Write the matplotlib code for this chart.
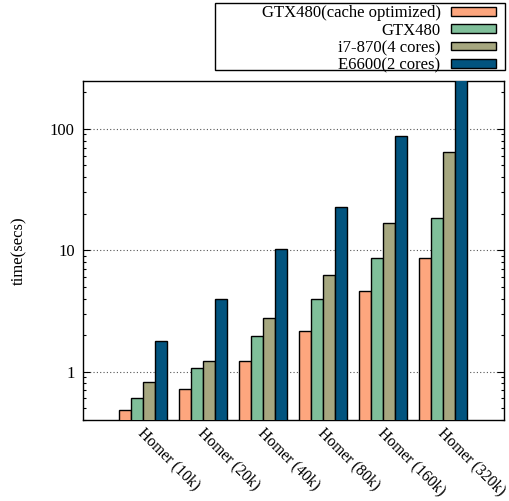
#!/usr/bin/env python3
"""Runtime comparison of GPU vs CPU implementations across Homer mesh sizes."""

import matplotlib
matplotlib.use("Agg")
import matplotlib.pyplot as plt
import matplotlib.transforms as mtransforms
import numpy as np
from matplotlib.patches import Rectangle
from matplotlib.ticker import FixedLocator, FixedFormatter, LogLocator, NullFormatter

plt.rcParams["font.family"] = ["Liberation Serif", "DejaVu Serif"]
plt.rcParams["font.size"] = 12

DATASETS = ["Homer (10k)", "Homer (20k)", "Homer (40k)", "Homer (80k)", "Homer (160k)", "Homer (320k)"]
SERIES = ["GTX480(cache optimized)", "GTX480", "i7-870(4 cores)", "E6600(2 cores)"]
GTX480_CACHE = [0.484, 0.725, 1.23, 2.18, 4.64, 8.67]
GTX480 = [0.60, 1.06, 1.98, 3.97, 8.67, 18.4]
I7_870 = [0.82, 1.23, 2.76, 6.28, 16.9, 64.3]
E6600 = [1.80, 3.93, 10.3, 22.7, 87.5, 280.0]

COLORS = ["#fda67e", "#80bf9a", "#a6a780", "#02547f"]


def main() -> None:
    fig = plt.figure(figsize=(5.10, 5.01), dpi=100)
    ax = fig.add_axes([0.163, 0.162, 0.826, 0.677])

    x = np.arange(len(DATASETS))
    width = 0.2
    all_series = [GTX480_CACHE, GTX480, I7_870, E6600]
    for i, (label, values, color) in enumerate(zip(SERIES, all_series, COLORS)):
        offset = (i - 1.5) * width
        ax.bar(x + offset, values, width, color=color, edgecolor="black",
               linewidth=1.0, label=label, zorder=3)

    ax.set_yscale("log")
    ax.set_ylim(0.4, 250)
    ax.set_xlim(-1.0, 6.02)

    ax.yaxis.set_major_locator(FixedLocator([1, 10, 100]))
    ax.yaxis.set_major_formatter(FixedFormatter(["1", "10", "100"]))
    ax.yaxis.set_minor_locator(LogLocator(base=10, subs=np.arange(2, 10)))
    ax.yaxis.set_minor_formatter(NullFormatter())
    ax.tick_params(axis="y", which="major", direction="in", length=5, width=0.8,
                   left=True, right=True, labelsize=12, pad=6)
    ax.tick_params(axis="y", which="minor", direction="in", length=2.5, width=0.8,
                   left=True, right=True)

    ax.set_xticks(x)
    ax.set_xticklabels(DATASETS, rotation=-45, ha="left", va="top",
                       rotation_mode="anchor", fontsize=11.2)
    ax.tick_params(axis="x", length=0, pad=4)
    shift = mtransforms.ScaledTranslation(0.03, 0.0, fig.dpi_scale_trans)
    for lbl in ax.get_xticklabels():
        lbl.set_transform(lbl.get_transform() + shift)

    ax.yaxis.grid(True, which="major", color="#555555", linestyle=(0, (1, 2)),
                  linewidth=0.8, zorder=0)
    for spine in ax.spines.values():
        spine.set_linewidth(1.0)

    ax.set_ylabel("time(secs)", fontsize=12, labelpad=16)

    # legend box sits above the plot, wider than its contents
    fig.patches.append(Rectangle((215 / 510, 1 - 70 / 501), 290 / 510, 67 / 501,
                                 transform=fig.transFigure, facecolor="white",
                                 edgecolor="black", linewidth=1.0, zorder=-1))
    leg = ax.legend(loc="upper right", bbox_to_anchor=(0.993, 1.237),
                    bbox_transform=ax.transAxes, markerfirst=False,
                    frameon=False,
                    handlelength=2.75, handleheight=0.42, labelspacing=0.08,
                    borderpad=0.3, handletextpad=0.6, borderaxespad=0,
                    fontsize=12)
    for text in leg.get_texts():
        text.set_ha("right")
    for patch in leg.get_patches():
        patch.set_linewidth(1.0)

    fig.savefig("out.png", dpi=100)
    plt.close(fig)


if __name__ == "__main__":
    main()
